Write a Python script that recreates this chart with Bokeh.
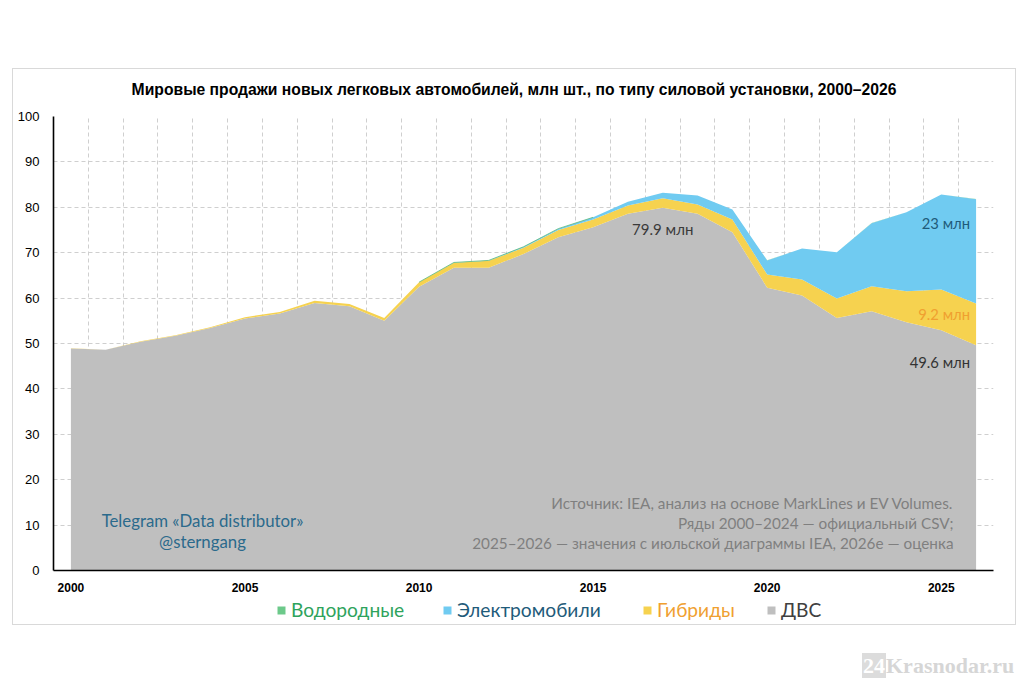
from bokeh.plotting import figure
from bokeh.models import Range1d, FixedTicker, Label, Legend, LegendItem, Div, ColumnDataSource
from bokeh.layouts import column
from bokeh.embed import file_html
from bokeh.resources import INLINE

# ---- data (million units) ----
years = list(range(2000, 2027))
ice = [48.9, 48.6, 50.4, 51.7, 53.4, 55.5, 56.6, 58.9, 58.2, 55.0,
       62.5, 66.7, 66.7, 69.7, 73.4, 75.6, 78.6, 79.9, 78.6, 74.5,
       62.3, 60.6, 55.6, 57.1, 54.7, 52.9, 49.6]
hybrid = [0.05, 0.05, 0.1, 0.1, 0.2, 0.3, 0.35, 0.5, 0.5, 0.6,
          1.0, 1.1, 1.5, 1.4, 1.6, 1.7, 1.8, 2.1, 2.0, 2.8,
          2.9, 3.5, 4.3, 5.5, 6.8, 9.0, 9.2]
ev = [0.0, 0.0, 0.0, 0.0, 0.0, 0.0, 0.0, 0.0, 0.0, 0.0,
      0.01, 0.05, 0.1, 0.2, 0.3, 0.5, 0.8, 1.2, 2.0, 2.2,
      3.1, 6.8, 10.2, 13.9, 17.4, 20.9, 23.0]
hydrogen = [0.0] * 15 + [0.001, 0.002, 0.003, 0.004, 0.01, 0.01,
                         0.015, 0.015, 0.015, 0.012, 0.01, 0.01]

x_ticks = [2000, 2005, 2010, 2015, 2020, 2025]
y_ticks = list(range(0, 101, 10))

title_text = "Мировые продажи новых легковых автомобилей, млн шт., по типу силовой установки, 2000–2026"
names = ["Водородные", "Электромобили", "Гибриды", "ДВС"]
fills = ["#6cc98a", "#70cbf1", "#f6d24f", "#bfbfbf"]
text_cols = ["#2ea35c", "#1f5b7a", "#f0a030", "#404040"]

src = ColumnDataSource(dict(year=years, ice=ice, hybrid=hybrid, ev=ev, h2=hydrogen))

W = 1002
FONT = "Lato"

title = Div(text=f'<div style="width:{W}px;text-align:center;padding-top:10px;font-family:\'Liberation Sans\';'
                 f'font-weight:bold;font-size:15.7px;color:#000;white-space:nowrap">{title_text}</div>',
            width=W, height=38, margin=0, styles={"text-align": "center"})

p = figure(width=W, height=490, x_range=Range1d(1999.5, 2026.5), y_range=Range1d(0, 100),
           output_backend="svg", toolbar_location=None,
           min_border_left=40, min_border_right=22, min_border_top=9, min_border_bottom=27,
           background_fill_color="white", border_fill_color="white")
p.outline_line_color = None

rs = p.varea_stack(stackers=["ice", "hybrid", "ev", "h2"], x="year", source=src,
                   color=fills[::-1])

# thin top edge of the hydrogen layer where it is exposed (2010-2015)
i0, i1 = years.index(2010), years.index(2015) + 1
top_all = [a + b + c + d for a, b, c, d in zip(ice, hybrid, ev, hydrogen)]
p.line(years[i0:i1], top_all[i0:i1], line_color="#5cb87a", line_width=1, line_alpha=0.8)

# grids
p.xgrid.ticker = FixedTicker(ticks=[y - 0.5 for y in years] + [years[-1] + 0.5])
for g in (p.xgrid, p.ygrid):
    g.grid_line_color = "#cfcfcf"
    g.grid_line_dash = "4 3"
    g.grid_line_width = 1
p.ygrid.ticker = FixedTicker(ticks=y_ticks)

# axes
p.xaxis.ticker = FixedTicker(ticks=x_ticks)
p.yaxis.ticker = FixedTicker(ticks=y_ticks)
for ax in (p.xaxis, p.yaxis):
    ax.major_tick_line_color = None
    ax.minor_tick_line_color = None
    ax.major_tick_out = 0
    ax.major_tick_in = 0
    ax.minor_tick_out = 0
    ax.axis_line_color = "#000000"
    ax.axis_line_width = 1.6
    ax.major_label_text_color = "#000000"
    ax.major_label_text_font = "Liberation Sans"
p.xaxis.major_label_text_font_style = "bold"
p.xaxis.major_label_text_font_size = "12px"
p.xaxis.major_label_standoff = 12
p.yaxis.major_label_text_font_size = "13px"
p.yaxis.major_label_standoff = 14

# value annotations
i17 = years.index(2017)
p.add_layout(Label(x=years[i17], y=ice[i17], text=f"{ice[i17]:.1f} млн", y_offset=-12,
                   text_align="center", text_baseline="top", text_font=FONT,
                   text_font_size="15px", text_color="#3a3a3a"))
top_ev = ice[-1] + hybrid[-1] + ev[-1]
top_hy = ice[-1] + hybrid[-1]
p.add_layout(Label(x=years[-1], y=top_ev, text=f"{ev[-1]:.0f} млн", x_offset=-6, y_offset=-15,
                   text_align="right", text_baseline="top", text_font=FONT,
                   text_font_size="14.8px", text_color="#1f5b7a"))
p.add_layout(Label(x=years[-1], y=top_hy, text=f"{hybrid[-1]:.1f} млн", x_offset=-6, y_offset=-1,
                   text_align="right", text_baseline="top", text_font=FONT,
                   text_font_size="14.8px", text_color="#f0a030"))
p.add_layout(Label(x=years[-1], y=ice[-1], text=f"{ice[-1]:.1f} млн", x_offset=-6, y_offset=-8,
                   text_align="right", text_baseline="top", text_font=FONT,
                   text_font_size="14.8px", text_color="#333333"))

# source notes
notes = ["Источник: IEA, анализ на основе MarkLines и EV Volumes.",
         "Ряды 2000–2024 — официальный CSV;",
         "2025–2026 — значения с июльской диаграммы IEA, 2026e — оценка"]
for k, t in enumerate(notes):
    p.add_layout(Label(x=900, y=68 - 20 * k, x_units="screen", y_units="screen", text=t,
                       text_align="right", text_baseline="middle", text_font=FONT,
                       text_font_size="15.3px", text_color="#7f7f7f"))

tg = ["Telegram «Data distributor»", "@sterngang"]
for k, t in enumerate(tg):
    p.add_layout(Label(x=149, y=50 - 21 * k, x_units="screen", y_units="screen", text=t,
                       text_align="center", text_baseline="middle", text_font=FONT,
                       text_font_size="16.8px", text_color="#2b6a8c"))

# legend strip (separate small figure so it is not clipped)
pl = figure(width=W, height=27, x_range=Range1d(0, 1), y_range=Range1d(0, 1),
            output_backend="svg", toolbar_location=None,
            x_axis_location=None, y_axis_location=None,
            min_border_left=40, min_border_right=22, min_border_top=0, min_border_bottom=0,
            background_fill_color="white", border_fill_color="white")
pl.outline_line_color = None
pl.grid.visible = False
leg_x = [223, 389, 589, 713]
for name, fc, col, lx in zip(names, fills, text_cols, leg_x):
    # legend proxy, lies outside the visible range
    r = pl.varea(x=[0, 1], y1=[5, 5], y2=[6, 6], fill_color=fc)
    lg = Legend(items=[LegendItem(label=name, renderers=[r])],
                location=(lx, 3), orientation="horizontal",
                padding=0, margin=0, spacing=0, label_standoff=5,
                glyph_width=10, glyph_height=10,
                label_text_font=FONT, label_text_font_size="19.2px", label_text_color=col,
                background_fill_alpha=0, border_line_color=None)
    pl.add_layout(lg)

box = column(title, p, pl, spacing=0, margin=(68, 0, 0, 12),
             styles={"border": "1px solid #d9d9d9"})

wm = Div(text='<span style="background:#dcdcdc;color:#ffffff;padding:0 1px">24</span>Krasnodar.ru',
         margin=(25, 0, 0, 862),
         styles={"color": "#d6d6d6", "font-family": "Liberation Serif", "font-weight": "bold",
                 "font-size": "22px"})

layout = column(box, wm)
open("out.html", "w").write(file_html(layout, INLINE))
